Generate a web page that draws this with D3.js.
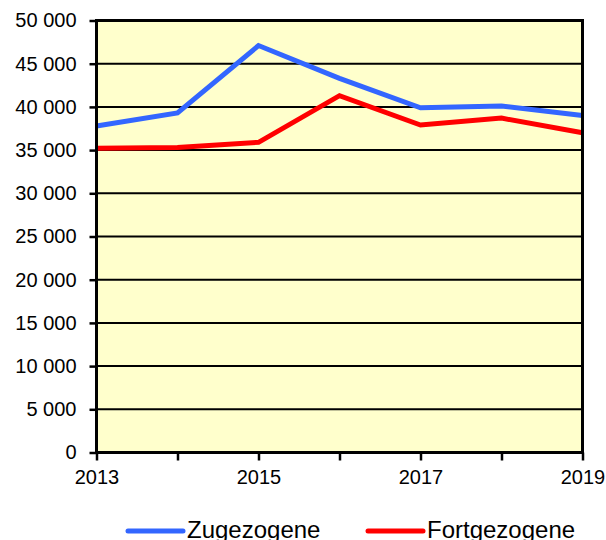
<!DOCTYPE html>
<html>
<head>
<meta charset="utf-8">
<script src="https://cdn.jsdelivr.net/npm/d3@7"></script>
<style>
  body { margin: 0; background: #fff; }
  text { font-family: "Liberation Sans", Arial, sans-serif; fill: #000; }
</style>
</head>
<body>
<script>
var svgWidth = 606;
var svgHeight = 540;

// data
var years = [2013, 2014, 2015, 2016, 2017, 2018, 2019];
var zugezogene = [37800, 39300, 47100, 43300, 39900, 40100, 39000];
var fortgezogene = [35200, 35300, 35900, 41300, 37900, 38700, 37000];
var yTicks = [0, 5000, 10000, 15000, 20000, 25000, 30000, 35000, 40000, 45000, 50000];
var xLabels = [2013, 2015, 2017, 2019];
var seriesNames = ['Zugezogene', 'Fortgezogene'];
var seriesColors = ['#3366ff', '#ff0000'];

// plot box (note: "top" is taken by window.top)
var plotLeft = 96.5, plotRight = 582.5, plotTop = 20.5, plotBottom = 452.5;

var svg = d3.select('body').append('svg')
  .attr('width', svgWidth)
  .attr('height', svgHeight);

var x = d3.scaleLinear().domain([2013, 2019]).range([plotLeft, plotRight]);
var y = d3.scaleLinear().domain([0, 50000]).range([plotBottom, plotTop]);

var fmt = function(d){ return d3.format(',')(d).replace(/,/g, ' '); };

// plot background
svg.append('rect')
  .attr('x', plotLeft).attr('y', plotTop)
  .attr('width', plotRight - plotLeft).attr('height', plotBottom - plotTop)
  .attr('fill', '#ffffcc');

// gridlines
svg.selectAll('.grid').data(yTicks.filter(function(d){ return d > 0 && d < 50000; }))
  .enter().append('line')
  .attr('x1', plotLeft).attr('x2', plotRight)
  .attr('y1', function(d){ return y(d); })
  .attr('y2', function(d){ return y(d); })
  .attr('stroke', '#000').attr('stroke-width', 2);

// y axis
var yAxis = d3.axisLeft(y).tickValues(yTicks).tickFormat(fmt).tickSize(7).tickPadding(13);
var gy = svg.append('g').attr('transform', 'translate(' + plotLeft + ',0)').call(yAxis);
gy.select('.domain').remove();
gy.selectAll('line').attr('stroke', '#000').attr('stroke-width', 2.5);
gy.selectAll('text').style('font-size', '20px').attr('fill', '#000');

// x axis
var xAxis = d3.axisBottom(x).tickValues(years).tickSize(8).tickPadding(9)
  .tickFormat(function(d){ return xLabels.indexOf(d) >= 0 ? d : ''; });
var gx = svg.append('g').attr('transform', 'translate(0,' + plotBottom + ')').call(xAxis);
gx.select('.domain').remove();
gx.selectAll('line').attr('stroke', '#000').attr('stroke-width', 2.5);
gx.selectAll('text').style('font-size', '20px').attr('fill', '#000');

// lines
var line = d3.line()
  .x(function(d, i){ return x(years[i]); })
  .y(function(d){ return y(d); });

[zugezogene, fortgezogene].forEach(function(s, i){
  svg.append('path').datum(s)
    .attr('d', line)
    .attr('fill', 'none')
    .attr('stroke', seriesColors[i])
    .attr('stroke-width', 5)
    .attr('stroke-linejoin', 'miter');
});

// frame
svg.append('rect')
  .attr('x', plotLeft).attr('y', plotTop)
  .attr('width', plotRight - plotLeft).attr('height', plotBottom - plotTop)
  .attr('fill', 'none').attr('stroke', '#000').attr('stroke-width', 3);

// legend
var legendX = [128, 368];
var legend = svg.selectAll('.legend').data(seriesNames).enter().append('g')
  .attr('transform', function(d, i){ return 'translate(' + legendX[i] + ',531)'; });
legend.append('line')
  .attr('x1', 0).attr('x2', 55)
  .attr('stroke', function(d, i){ return seriesColors[i]; })
  .attr('stroke-width', 5).attr('stroke-linecap', 'round');
legend.append('text')
  .attr('x', 59).attr('y', 7)
  .style('font-size', '24px')
  .text(function(d){ return d; });
</script>
</body>
</html>
